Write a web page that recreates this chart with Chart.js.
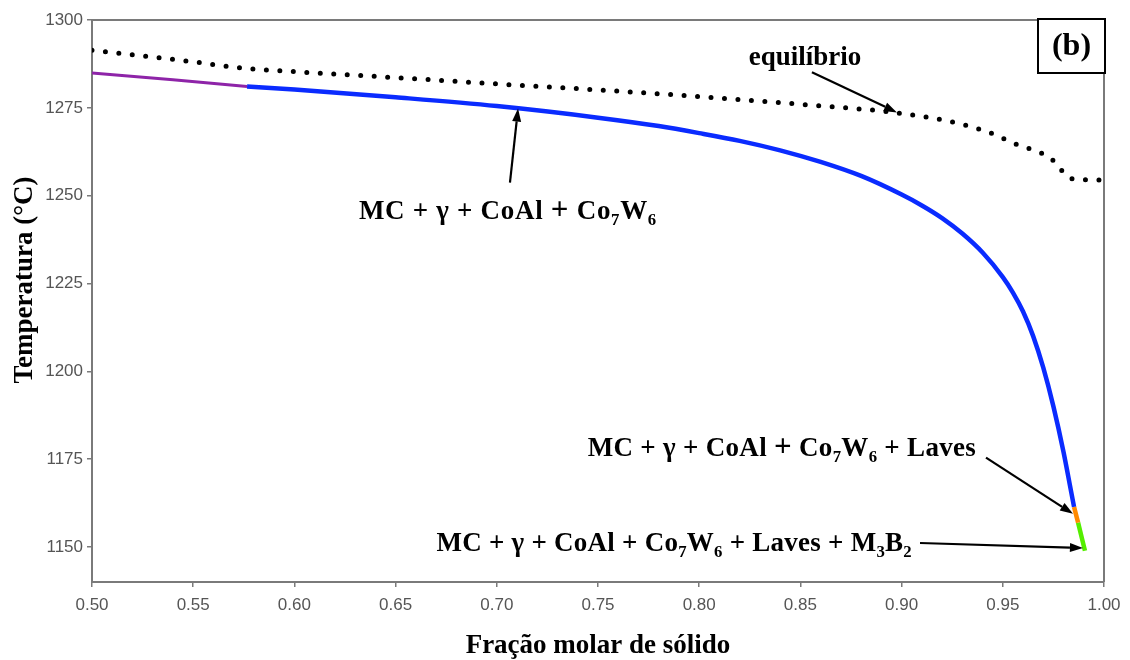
<!DOCTYPE html>
<html>
<head>
<meta charset="utf-8">
<script src="https://cdn.jsdelivr.net/npm/chart.js@4.4.1/dist/chart.umd.min.js"></script>
<style>
  html, body { margin: 0; padding: 0; background: #fff; }
  #wrap { width: 1130px; height: 660px; }
</style>
</head>
<body>
<div id="wrap"><canvas id="c" width="1130" height="660"></canvas></div>
<script>
// Scheil solidification path vs. equilibrium for the alloy (b)
const xTicks = [0.50, 0.55, 0.60, 0.65, 0.70, 0.75, 0.80, 0.85, 0.90, 0.95, 1.00];
const yTicks = [1150, 1175, 1200, 1225, 1250, 1275, 1300];

// equilibrium solidification (dotted)
const eqFrac = [0.500, 0.547, 0.578, 0.600, 0.650, 0.700, 0.750, 0.800, 0.850, 0.900, 0.930, 0.945, 0.958, 0.9684, 0.9743, 0.9787, 0.9832, 1.000];
const eqTemp = [1291.4, 1288.3, 1286.1, 1285.3, 1283.6, 1281.8, 1280.1, 1278.2, 1276.0, 1273.4, 1270.3, 1267.6, 1264.3, 1262.3, 1260.3, 1257.4, 1254.9, 1254.4];

// Scheil path, coloured by phase assemblage
const purpleFrac = [0.500, 0.540, 0.5766];
const purpleTemp = [1284.9, 1283.0, 1281.1];

const blueFrac = [0.5766, 0.600, 0.650, 0.700, 0.750, 0.780, 0.800, 0.820, 0.840, 0.860, 0.880, 0.900, 0.910, 0.920, 0.930, 0.940, 0.950, 0.955, 0.960, 0.965, 0.970, 0.975, 0.980, 0.9835, 0.9852];
const blueTemp = [1281.1, 1280.2, 1278.0, 1275.5, 1272.2, 1269.8, 1267.8, 1265.6, 1262.9, 1259.6, 1255.6, 1250.3, 1247.2, 1243.6, 1239.2, 1233.8, 1226.8, 1222.4, 1217.0, 1210.0, 1201.0, 1190.0, 1177.0, 1166.5, 1161.4];

const orangeFrac = [0.9852, 0.9872];
const orangeTemp = [1161.4, 1156.9];

const greenFrac = [0.9872, 0.9906];
const greenTemp = [1156.9, 1148.9];

const toPoints = (xs, ys) => xs.map((x, i) => ({ x: x, y: ys[i] }));

const SERIF = '"Liberation Serif", "Times New Roman", serif';
const SANS = '"Liberation Sans", Arial, sans-serif';

// text runs: plain or subscript
function drawRich(ctx, parts, x, y, align, size, spacing) {
  const fontFor = p => 'bold ' + (p.sub ? size * 0.62 : (p.big ? size * 1.15 : size)) + 'px ' + SERIF;
  ctx.letterSpacing = (spacing || 0) + 'px';
  let total = 0;
  parts.forEach(p => { ctx.font = fontFor(p); total += ctx.measureText(p.t).width; });
  let cx = align === 'right' ? x - total : (align === 'center' ? x - total / 2 : x);
  ctx.textAlign = 'left';
  ctx.textBaseline = 'alphabetic';
  parts.forEach(p => {
    ctx.font = fontFor(p);
    ctx.fillText(p.t, cx, p.sub ? y + size * 0.22 : y);
    cx += ctx.measureText(p.t).width;
  });
  ctx.letterSpacing = '0px';
}

function arrow(ctx, x1, y1, x2, y2) {
  const ang = Math.atan2(y2 - y1, x2 - x1);
  const L = 13, W = 4.5;
  const bx = x2 - L * Math.cos(ang), by = y2 - L * Math.sin(ang);
  ctx.beginPath();
  ctx.moveTo(x1, y1);
  ctx.lineTo(bx, by);
  ctx.lineWidth = 2.2;
  ctx.strokeStyle = '#000';
  ctx.stroke();
  ctx.beginPath();
  ctx.moveTo(x2, y2);
  ctx.lineTo(bx + W * Math.sin(ang), by - W * Math.cos(ang));
  ctx.lineTo(bx - W * Math.sin(ang), by + W * Math.cos(ang));
  ctx.closePath();
  ctx.fillStyle = '#000';
  ctx.fill();
}

const label1 = [{ t: 'MC + γ + CoAl ' }, { t: '+', big: true }, { t: ' Co' }, { t: '7', sub: true }, { t: 'W' }, { t: '6', sub: true }];
const label2 = [{ t: 'MC + γ + CoAl ' }, { t: '+', big: true }, { t: ' Co' }, { t: '7', sub: true }, { t: 'W' }, { t: '6', sub: true }, { t: ' + Laves' }];
const label3 = [{ t: 'MC + γ + CoAl + Co' }, { t: '7', sub: true }, { t: 'W' }, { t: '6', sub: true }, { t: ' + Laves + M' }, { t: '3', sub: true }, { t: 'B' }, { t: '2', sub: true }];

const annotations = {
  id: 'annotations',
  afterDatasetsDraw(chart) {
    const ctx = chart.ctx, xs = chart.scales.x, ys = chart.scales.y;
    const px = v => xs.getPixelForValue(v), py = v => ys.getPixelForValue(v);
    const area = chart.chartArea;
    ctx.save();

    // frame on top and right
    ctx.strokeStyle = '#7a7a7a';
    ctx.lineWidth = 2;
    ctx.beginPath();
    ctx.moveTo(area.left, area.top);
    ctx.lineTo(area.right, area.top);
    ctx.lineTo(area.right, area.bottom);
    ctx.stroke();

    // vertical axis title
    ctx.save();
    ctx.translate(25, py(1226));
    ctx.rotate(-Math.PI / 2);
    ctx.fillStyle = '#000';
    ctx.font = 'bold 27px ' + SERIF;
    ctx.textAlign = 'center';
    ctx.textBaseline = 'middle';
    ctx.fillText('Temperatura (°C)', 0, 0);
    ctx.restore();

    ctx.fillStyle = '#000';
    // equilibrium label
    drawRich(ctx, [{ t: 'equilíbrio' }], px(0.8523), py(1289.4) + 8, 'center', 27, 0);
    arrow(ctx, px(0.8557), py(1285.1), px(0.8977), py(1273.7));

    // Scheil main path
    drawRich(ctx, label1, px(0.7055), py(1246) + 9, 'center', 27, 0.7);
    arrow(ctx, px(0.7065), py(1253.7), px(0.7105), py(1274.8));

    // Laves
    drawRich(ctx, label2, px(0.9368), py(1178.3) + 9, 'right', 27, 0.3);
    arrow(ctx, px(0.9417), py(1175.4), px(0.9847), py(1159.4));

    // Laves + M3B2
    drawRich(ctx, label3, px(0.9051), py(1151.4) + 9, 'right', 27, 0.25);
    arrow(ctx, px(0.9091), py(1151.1), px(0.9896), py(1149.7));

    // panel tag
    const bw = 67, bh = 54;
    ctx.fillStyle = '#fff';
    ctx.fillRect(area.right - bw + 1, area.top - 1, bw, bh);
    ctx.strokeStyle = '#000';
    ctx.lineWidth = 2;
    ctx.strokeRect(area.right - bw + 1, area.top - 1, bw, bh);
    ctx.fillStyle = '#000';
    ctx.font = 'bold 32px ' + SERIF;
    ctx.textAlign = 'center';
    ctx.textBaseline = 'middle';
    ctx.fillText('(b)', area.right - bw / 2 + 1, area.top + bh / 2);
    ctx.restore();
  }
};

const lineDefaults = { pointRadius: 0, fill: false, cubicInterpolationMode: 'monotone' };

new Chart(document.getElementById('c'), {
  type: 'line',
  data: {
    datasets: [
      Object.assign({ label: 'equilíbrio', data: toPoints(eqFrac, eqTemp), borderColor: '#000', borderWidth: 5,
        borderDash: [0, 13.5], borderCapStyle: 'round' }, lineDefaults),
      Object.assign({ label: 'L + MC + γ', data: toPoints(purpleFrac, purpleTemp), borderColor: '#8e24a8', borderWidth: 3 }, lineDefaults),
      Object.assign({ label: 'MC + γ + CoAl + Co7W6', data: toPoints(blueFrac, blueTemp), borderColor: '#0a2bff', borderWidth: 4.5 }, lineDefaults),
      Object.assign({ label: '+ Laves', data: toPoints(orangeFrac, orangeTemp), borderColor: '#ff8a00', borderWidth: 4.5 }, lineDefaults),
      Object.assign({ label: '+ M3B2', data: toPoints(greenFrac, greenTemp), borderColor: '#55ee00', borderWidth: 4.5 }, lineDefaults)
    ]
  },
  options: {
    responsive: false,
    animation: false,
    devicePixelRatio: 1,
    layout: { padding: { top: 20, right: 26, left: 0, bottom: 0 } },
    plugins: { legend: { display: false }, tooltip: { enabled: false } },
    scales: {
      x: {
        type: 'linear', min: 0.5, max: 1.0,
        afterBuildTicks: s => { s.ticks = xTicks.map(v => ({ value: v })); },
        afterFit: s => { s.height = 78; },
        grid: { drawOnChartArea: false, drawTicks: true, tickLength: 5, color: '#7a7a7a', lineWidth: 1.5 },
        border: { display: true, color: '#7a7a7a', width: 2 },
        ticks: { color: '#555', font: { family: SANS, size: 17 }, padding: 8, maxRotation: 0,
          callback: v => Number(v).toFixed(2) },
        title: { display: true, text: 'Fração molar de sólido', color: '#000',
          font: { family: SERIF, size: 27, weight: 'bold', lineHeight: 1 }, padding: { top: 8, bottom: 0 } }
      },
      y: {
        type: 'linear', min: 1140, max: 1300,
        afterBuildTicks: s => { s.ticks = yTicks.map(v => ({ value: v })); },
        afterFit: s => { s.width = 92; },
        grid: { drawOnChartArea: false, drawTicks: true, tickLength: 5, color: '#7a7a7a', lineWidth: 1.5 },
        border: { display: true, color: '#7a7a7a', width: 2 },
        ticks: { color: '#555', font: { family: SANS, size: 17 }, padding: 4,
          callback: v => String(v) },
        title: { display: false }
      }
    }
  },
  plugins: [annotations]
});
</script>
</body>
</html>
